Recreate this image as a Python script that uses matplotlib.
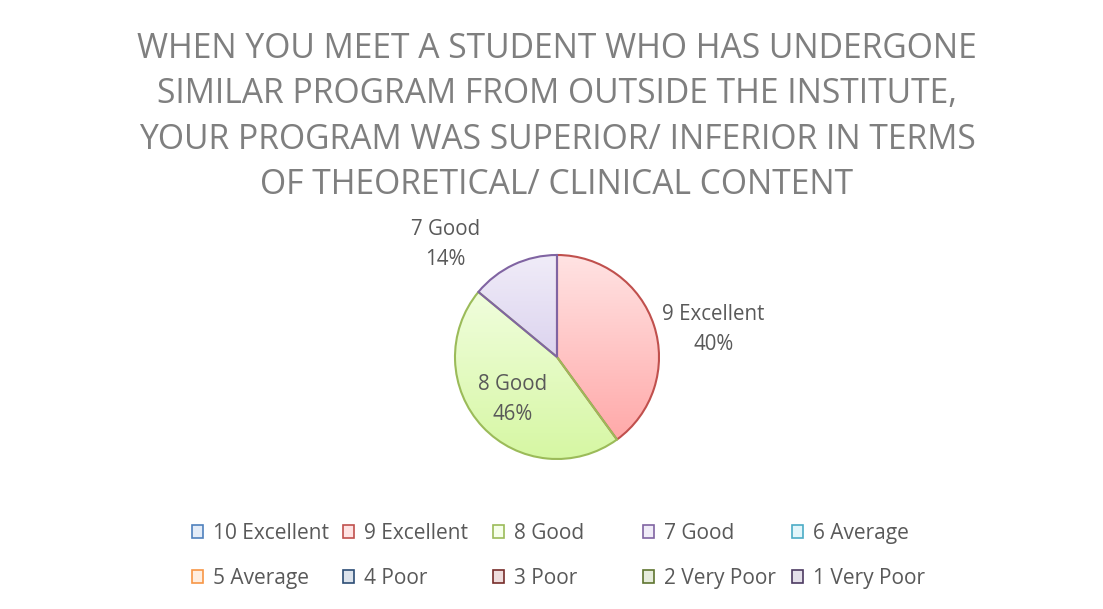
import numpy as np
import matplotlib.pyplot as plt
from matplotlib.colors import to_rgb
from matplotlib.patches import Patch

plt.rcParams['font.family'] = ['Open Sans', 'DejaVu Sans']

# Данные опроса
categories = ['10 Excellent', '9 Excellent', '8 Good', '7 Good', '6 Average',
              '5 Average', '4 Poor', '3 Poor', '2 Very Poor', '1 Very Poor']
counts = [0, 40, 46, 14, 0, 0, 0, 0, 0, 0]

title = ('WHEN YOU MEET A STUDENT WHO HAS UNDERGONE\n'
         'SIMILAR PROGRAM FROM OUTSIDE THE INSTITUTE,\n'
         'YOUR PROGRAM WAS SUPERIOR/ INFERIOR IN TERMS\n'
         'OF THEORETICAL/ CLINICAL CONTENT')

# цвета темы Office: обводка, верх и низ градиента
edge_colors = ['#4F81BD', '#C0504D', '#9BBB59', '#8064A2', '#4BACC6',
               '#F79646', '#2C4D75', '#772C2A', '#5F7530', '#4D3B62']
top_colors = ['#E3ECF8', '#FFE3E3', '#F6FFEA', '#F0ECF8', '#E2F6FB',
              '#FFEEE0', '#DCE3EC', '#EEDCDC', '#E6ECDC', '#E4E0EA']
bottom_colors = ['#A9C4EA', '#FFA3A3', '#D6F7A3', '#C8BBE6', '#A6E6F5',
                 '#FFC799', '#A4B4CA', '#C9A5A5', '#BDCBA2', '#B3A8C2']

# где ставить подписи: (угол, радиус) для ненулевых секторов
label_pos = {1: (11, 1.56), 2: (-138, 0.58), 3: (134, 1.57)}

text_gray = '#595959'

fig = plt.figure(figsize=(11.03, 6.09), dpi=100)
fig.text(557 / 1103, 1 - 117 / 609, title, ha='center', va='center',
         fontsize=24.2, color='#7F7F7F', linespacing=1.44)

R_PX = 102
AX_PX = 200
ax = fig.add_axes([(557 - AX_PX) / 1103, (252 - AX_PX) / 609,
                   2 * AX_PX / 1103, 2 * AX_PX / 609])
lim = AX_PX / R_PX
ax.axis('off')

idx = [i for i, c in enumerate(counts) if c > 0]
vals = [counts[i] for i in idx]
wedges, _ = ax.pie(vals, startangle=90, counterclock=False, radius=1,
                   colors=['none'] * len(idx),
                   wedgeprops=dict(linewidth=1.5))

grad = np.linspace(0, 1, 256).reshape(-1, 1)
for w, i in zip(wedges, idx):
    w.set_edgecolor(edge_colors[i])
    w.set_zorder(3)
    c0 = np.array(to_rgb(top_colors[i]))
    c1 = np.array(to_rgb(bottom_colors[i]))
    img = c0[None, None, :] * (1 - grad[:, :, None]) + c1[None, None, :] * grad[:, :, None]
    im = ax.imshow(img, extent=[-1, 1, -1, 1], origin='upper',
                   aspect='auto', zorder=2, interpolation='bilinear')
    im.set_clip_path(w)

total = sum(counts)
for i in idx:
    ang, r = label_pos[i]
    x = r * np.cos(np.radians(ang))
    y = r * np.sin(np.radians(ang)) - 0.03
    ax.text(x, y, f'{categories[i]}\n{round(100 * counts[i] / total)}%',
            ha='center', va='center', fontsize=14.8, color=text_gray,
            linespacing=1.55, zorder=5)

ax.set_xlim(-lim, lim)
ax.set_ylim(-lim, lim)

# легенда: 5 колонок по 2 строки
handles = [Patch(facecolor=top_colors[i], edgecolor=edge_colors[i], linewidth=1.2)
           for i in range(len(categories))]
col_x = [192, 343, 493, 643, 792]
for k, x in enumerate(col_x):
    leg = fig.legend(handles=[handles[k], handles[k + 5]],
                     labels=[categories[k], categories[k + 5]],
                     loc='upper left', bbox_to_anchor=(x / 1103, 1 - 523 / 609),
                     frameon=False, fontsize=15, borderpad=0, borderaxespad=0,
                     handlelength=0.55, handleheight=0.55, handletextpad=0.45,
                     labelspacing=1.14)
    for t in leg.get_texts():
        t.set_color(text_gray)

fig.savefig('out.png', dpi=100, facecolor='white')
